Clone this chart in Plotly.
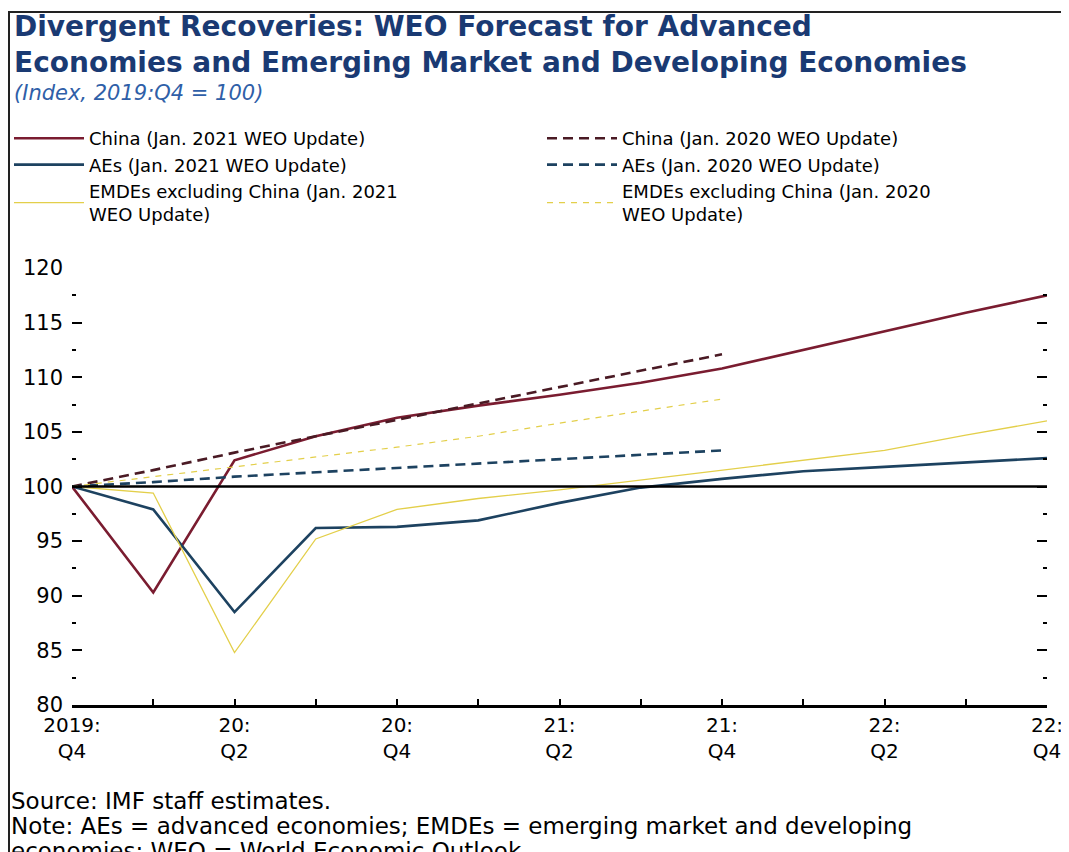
import plotly.graph_objects as go

quarters = ["2019:Q4", "2020:Q1", "2020:Q2", "2020:Q3", "2020:Q4",
            "2021:Q1", "2021:Q2", "2021:Q3", "2021:Q4",
            "2022:Q1", "2022:Q2", "2022:Q3", "2022:Q4"]
tick_labels = ["2019:<br>Q4", "", "20:<br>Q2", "", "20:<br>Q4", "", "21:<br>Q2", "",
               "21:<br>Q4", "", "22:<br>Q2", "", "22:<br>Q4"]

china_2021 = [100, 90.3, 102.4, 104.6, 106.3, 107.4, 108.4, 109.5, 110.8, 112.5, 114.2, 115.9, 117.5]
china_2020 = [100, 101.5, 103.1, 104.6, 106.1, 107.6, 109.1, 110.6, 112.1]
aes_2021 = [100, 97.9, 88.5, 96.2, 96.3, 96.9, 98.5, 99.9, 100.7, 101.4, 101.8, 102.2, 102.6]
aes_2020 = [100, 100.4, 100.9, 101.3, 101.7, 102.1, 102.5, 102.9, 103.3]
emde_2021 = [100, 99.4, 84.8, 95.2, 97.9, 98.9, 99.7, 100.6, 101.5, 102.4, 103.3, 104.7, 106.0]
emde_2020 = [100, 100.9, 101.8, 102.7, 103.6, 104.6, 105.8, 106.9, 108.0]
baseline = [100] * len(quarters)

x_all = list(range(len(quarters)))
x_old = list(range(len(china_2020)))

FONT = "DejaVu Sans"
C_CHINA = "#7a1c30"
C_CHINA_OLD = "#4a1a24"
C_AES = "#1d4260"
C_EMDE = "#e3cf4a"

fig = go.Figure()
fig.add_trace(go.Scatter(x=x_all, y=china_2021, mode="lines", name="China (Jan. 2021 WEO Update)",
                         line=dict(color=C_CHINA, width=2.6), legend="legend"))
fig.add_trace(go.Scatter(x=x_old, y=china_2020, mode="lines", name="China (Jan. 2020 WEO Update)",
                         line=dict(color=C_CHINA_OLD, width=2.6, dash="10px,6px"), legend="legend2"))
fig.add_trace(go.Scatter(x=x_all, y=aes_2021, mode="lines", name="AEs (Jan. 2021 WEO Update)",
                         line=dict(color=C_AES, width=2.6), legend="legend"))
fig.add_trace(go.Scatter(x=x_old, y=aes_2020, mode="lines", name="AEs (Jan. 2020 WEO Update)",
                         line=dict(color=C_AES, width=2.6, dash="10px,6px"), legend="legend2"))
fig.add_trace(go.Scatter(x=x_all, y=emde_2021, mode="lines",
                         name="EMDEs excluding China (Jan. 2021<br>WEO Update)",
                         line=dict(color=C_EMDE, width=1.3), legend="legend"))
fig.add_trace(go.Scatter(x=x_old, y=emde_2020, mode="lines",
                         name="EMDEs excluding China (Jan. 2020<br>WEO Update)",
                         line=dict(color=C_EMDE, width=1.2, dash="6px,6px"), legend="legend2"))
fig.add_trace(go.Scatter(x=x_all, y=baseline, mode="lines", showlegend=False,
                         line=dict(color="black", width=2.6), yaxis="y2"))

OFF = 8  # page body margin
W, H = 1069, 852
L, R, T, B = 64, 30, 260, 155
PW, PH = W - L - R, H - T - B


def px(page_x):
    return (page_x - OFF - L) / PW


def py(page_y):
    return (H - B - (page_y - OFF)) / PH


leg_common = dict(orientation="v", xanchor="left", yanchor="top", itemwidth=70,
                  font=dict(family=FONT, size=18, color="black"),
                  bgcolor="rgba(0,0,0,0)", traceorder="normal", valign="middle",
                  tracegroupgap=0)

fig.update_layout(
    width=W, height=H,
    margin=dict(l=L, r=R, t=T, b=B, autoexpand=False),
    paper_bgcolor="white", plot_bgcolor="white",
    font=dict(family=FONT, size=19, color="black"),
    showlegend=True,
    legend=dict(x=px(9), y=py(120), **leg_common),
    legend2=dict(x=px(542), y=py(120), **leg_common),
    xaxis=dict(range=[0, 12], tickvals=x_all, ticktext=tick_labels, ticks="inside",
               ticklen=6, tickwidth=2, tickcolor="black", showline=True, linecolor="black",
               linewidth=2.5, showgrid=False, zeroline=False, ticklabelstandoff=0,
               tickfont=dict(family=FONT, size=20, color="black")),
    yaxis=dict(range=[80, 120], dtick=5, ticks="inside", ticklen=10, tickwidth=2,
               tickcolor="black", showline=False, showgrid=False, zeroline=False,
               ticklabelstandoff=8,
               minor=dict(dtick=2.5, ticks="inside", ticklen=4, tickwidth=2, tickcolor="black"),
               tickfont=dict(family=FONT, size=21, color="black")),
    yaxis2=dict(range=[80, 120], dtick=5, overlaying="y", side="right", ticks="inside",
                ticklen=10, tickwidth=2, tickcolor="black", showticklabels=False,
                showline=False, showgrid=False, zeroline=False,
                minor=dict(dtick=2.5, ticks="inside", ticklen=4, tickwidth=2, tickcolor="black")),
)

# outer frame
fig.add_shape(type="rect", xref="paper", yref="paper",
              x0=px(9), x1=px(1090), y0=py(880), y1=py(12),
              line=dict(color="#222222", width=2), fillcolor="rgba(0,0,0,0)", layer="below")

title_color = "#1a3a73"
fig.add_annotation(text="<b>Divergent Recoveries: WEO Forecast for Advanced<br>"
                        "Economies and Emerging Market and Developing Economies</b>",
                   xref="paper", yref="paper", x=px(12), y=py(OFF), xanchor="left", yanchor="top",
                   align="left", showarrow=False, font=dict(family=FONT, size=28, color=title_color))
fig.add_annotation(text="<i>(Index, 2019:Q4 = 100)</i>",
                   xref="paper", yref="paper", x=px(12), y=py(79), xanchor="left", yanchor="top",
                   showarrow=False, font=dict(family=FONT, size=21, color="#2f5fa8"))

notes = [
    ("Source: IMF staff estimates.", 801),
    ("Note: AEs = advanced economies; EMDEs = emerging market and developing", 826),
    ("economies; WEO = World Economic Outlook.", 851),
]
for txt, yy in notes:
    fig.add_annotation(text=txt, xref="paper", yref="paper", x=px(9), y=py(yy),
                       xanchor="left", yanchor="middle", showarrow=False,
                       font=dict(family=FONT, size=23, color="black"))

fig.write_html("out.html")
